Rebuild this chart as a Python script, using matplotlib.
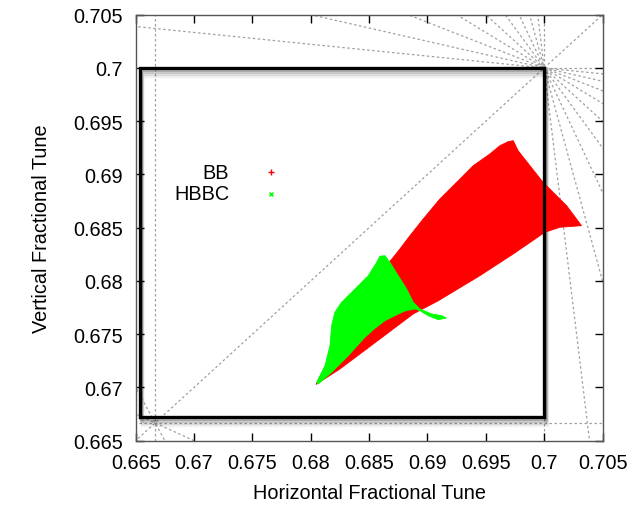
import matplotlib
matplotlib.use("Agg")
import matplotlib.pyplot as plt
from matplotlib.patches import Polygon, Rectangle
import matplotlib.transforms as mtransforms

plt.rcParams['font.family'] = ['Liberation Sans', 'DejaVu Sans']

# ---------------- data ----------------
# BB tune footprint outline (Qx, Qy)
bb_qx = [0.68045, 0.68250, 0.68479, 0.68707, 0.68878, 0.69090, 0.69449, 0.69735,
         0.70006, 0.70135, 0.70320, 0.70192, 0.70077, 0.69991, 0.69878, 0.69777,
         0.69735, 0.69692, 0.69621, 0.69535, 0.69392, 0.69250, 0.69107, 0.68964,
         0.68850, 0.68764, 0.68707, 0.68636, 0.68421, 0.68250]
bb_qy = [0.67028, 0.67173, 0.67361, 0.67549, 0.67690, 0.67812, 0.68049, 0.68253,
         0.68457, 0.68504, 0.68519, 0.68707, 0.68832, 0.68926, 0.69082, 0.69223,
         0.69317, 0.69308, 0.69270, 0.69192, 0.69082, 0.68926, 0.68770, 0.68582,
         0.68425, 0.68300, 0.68222, 0.68131, 0.67831, 0.67455]

# HBBC tune footprint outline (Qx, Qy)
hbbc_qx = [0.68051, 0.68122, 0.68165, 0.68179, 0.68207, 0.68265, 0.68379, 0.68493,
           0.68565, 0.68593, 0.68636, 0.68678, 0.68750, 0.68822, 0.68878, 0.68935,
           0.69036, 0.69121, 0.69164, 0.69092, 0.69006, 0.68935, 0.68893, 0.68807,
           0.68721, 0.68636, 0.68550, 0.68464, 0.68321, 0.68179, 0.68064]
hbbc_qy = [0.67048, 0.67204, 0.67392, 0.67580, 0.67706, 0.67800, 0.67924, 0.68049,
           0.68175, 0.68232, 0.68237, 0.68175, 0.68049, 0.67924, 0.67800, 0.67737,
           0.67690, 0.67674, 0.67652, 0.67636, 0.67674, 0.67721, 0.67737, 0.67718,
           0.67674, 0.67627, 0.67555, 0.67471, 0.67298, 0.67142, 0.67032]

# resonance lines m*Qx + n*Qy = p
res_m = [3, 0, 1, 2, 10, 9, 8, 7, 6, 5, 4, 3, 2, 1, 0, 1]
res_n = [0, 3, 2, 1, 0, 1, 2, 3, 4, 5, 6, 7, 8, 9, 10, -1]
res_p = [2, 2, 2, 2, 7, 7, 7, 7, 7, 7, 7, 7, 7, 7, 7, 0]

# working-point box
box_qx = [0.66534, 0.70000]
box_qy = [0.66723, 0.70000]

series_labels = ["BB", "HBBC"]
xticks = [0.665, 0.67, 0.675, 0.68, 0.685, 0.69, 0.695, 0.7, 0.705]
yticks = [0.665, 0.67, 0.675, 0.68, 0.685, 0.69, 0.695, 0.7, 0.705]
xtick_labels = ["0.665", "0.67", "0.675", "0.68", "0.685", "0.69", "0.695", "0.7", "0.705"]
ytick_labels = xtick_labels
xlim = (0.665, 0.705)
ylim = (0.665, 0.705)

# ---------------- figure ----------------
fig = plt.figure(figsize=(6.39, 5.06), dpi=100)
ax = fig.add_axes([0.2123, 0.1271, 0.7306, 0.8419])
ax.set_xlim(*xlim)
ax.set_ylim(*ylim)

grey = '#a0a0a0'
for m, n, p in zip(res_m, res_n, res_p):
    if n == 0:
        ax.axvline(p / m, color=grey, lw=0.9, ls=(0, (2, 2)), zorder=1)
    else:
        xs = [xlim[0] - 0.01, xlim[1] + 0.01]
        ys = [(p - m * x) / n for x in xs]
        ax.plot(xs, ys, color=grey, lw=0.9, ls=(0, (2, 2)), zorder=1)

# box with soft shadow
w = box_qx[1] - box_qx[0]
h = box_qy[1] - box_qy[0]
for dx, dy, a in [(1, -2, 0.22), (1.5, -4, 0.14), (2, -6, 0.09), (2.5, -8, 0.05)]:
    tr = mtransforms.offset_copy(ax.transData, fig=fig, x=dx, y=dy, units='dots')
    ax.add_patch(Rectangle((box_qx[0], box_qy[0]), w, h, fill=False,
                           edgecolor='black', alpha=a, lw=2.5, transform=tr, zorder=2))
ax.add_patch(Rectangle((box_qx[0], box_qy[0]), w, h, fill=False,
                       edgecolor='black', lw=2.4, zorder=5))

ax.add_patch(Polygon(list(zip(bb_qx, bb_qy)), closed=True, facecolor='#ff0000',
                     edgecolor='#ff0000', lw=0.6, zorder=3))
ax.add_patch(Polygon(list(zip(hbbc_qx, hbbc_qy)), closed=True, facecolor='#00ff00',
                     edgecolor='#00ff00', lw=0.6, zorder=4))

# key
fs = 14.3
ax.text(0.2, 0.6296, series_labels[0], transform=ax.transAxes, ha='right', va='center', fontsize=fs)
ax.text(0.2, 0.5794, series_labels[1], transform=ax.transAxes, ha='right', va='center', fontsize=fs)
ax.plot([0.2895], [0.6296], transform=ax.transAxes, marker='+', color='#ff0000', ms=4, mew=1, ls='none')
ax.plot([0.2895], [0.5794], transform=ax.transAxes, marker='x', color='#00ff00', ms=3.5, mew=1, ls='none')

ax.set_xticks(xticks)
ax.set_xticklabels(xtick_labels)
ax.set_yticks(yticks)
ax.set_yticklabels(ytick_labels)
ax.tick_params(direction='in', length=6, width=1, top=True, right=True,
               labelsize=fs, pad=9, color='black')
for s in ax.spines.values():
    s.set_color('#555555')
    s.set_linewidth(1)

ax.set_xlabel("Horizontal Fractional Tune", fontsize=fs, labelpad=8)
ax.set_ylabel("Vertical Fractional Tune", fontsize=fs, labelpad=16)

fig.savefig("out.png", dpi=100)
